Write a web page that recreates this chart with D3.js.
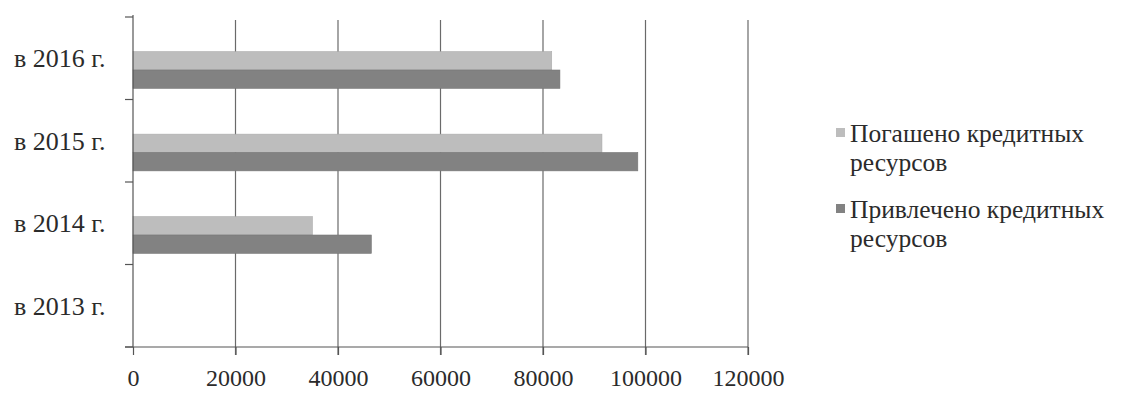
<!DOCTYPE html>
<html lang="ru">
<head>
  <meta charset="UTF-8">
  <title>Кредитные ресурсы</title>
  <script src="https://d3js.org/d3.v7.min.js"></script>
  <style>
    body { margin: 0; background: #fff; }
    svg text { font-family: "Liberation Serif", "Times New Roman", "DejaVu Serif", serif; fill: #2b2b2b; }
    .grid line { stroke: #6a6a6a; stroke-width: 1.2; }
    .axis path, .axis line { stroke: #555; stroke-width: 1.2; }
  </style>
</head>
<body>
  <svg width="1124" height="401"></svg>
  <script>
    // categories top to bottom, as drawn
    const years = ["в 2016 г.", "в 2015 г.", "в 2014 г.", "в 2013 г."];
    const seriesNames = ["Погашено кредитных ресурсов", "Привлечено кредитных ресурсов"];
    const repaid = [81700, 91500, 35000, 0];
    const raised = [83300, 98500, 46500, 0];
    const xTicks = [0, 20000, 40000, 60000, 80000, 100000, 120000];
    const colors = ["#bdbdbd", "#828282"];

    const serif = "'Liberation Serif', 'Times New Roman', serif";
    const svg = d3.select("svg");
    const plot = {left: 133, right: 748, top: 17, bottom: 347};

    const x = d3.scaleLinear().domain([0, 120000]).range([plot.left, plot.right]);
    const y = d3.scaleBand().domain(years).range([plot.top, plot.bottom]).padding(0);
    const bw = y.bandwidth();
    const ys = d3.scaleBand().domain([0, 1]).range([bw * 0.42, bw * 0.865]).padding(0);

    // vertical grid lines
    svg.append("g").attr("class", "grid")
      .selectAll("line")
      .data(xTicks.slice(1))
      .enter().append("line")
        .attr("x1", d => x(d)).attr("x2", d => x(d))
        .attr("y1", 20).attr("y2", plot.bottom + 8);

    // bars
    const data = years.map((c, i) => ({c, v: [repaid[i], raised[i]]}));
    const rows = svg.append("g").selectAll("g")
      .data(data)
      .enter().append("g")
        .attr("transform", d => `translate(0,${y(d.c)})`);
    rows.selectAll("rect")
      .data(d => d.v.map((v, k) => ({v, k})))
      .enter().append("rect")
        .attr("x", x(0))
        .attr("y", d => ys(d.k))
        .attr("width", d => x(d.v) - x(0))
        .attr("height", ys.bandwidth())
        .attr("fill", d => colors[d.k])
        .attr("stroke", d => d3.color(colors[d.k]).darker(0.3))
        .attr("stroke-width", 0.6);

    // y axis line and category ticks
    const yAxis = svg.append("g").attr("class", "axis");
    yAxis.append("line")
      .attr("x1", x(0)).attr("x2", x(0))
      .attr("y1", plot.top - 2).attr("y2", plot.bottom);
    yAxis.selectAll(".tk")
      .data(years.map(c => y(c)).concat([plot.bottom]))
      .enter().append("line")
        .attr("x1", x(0) - 8).attr("x2", x(0))
        .attr("y1", d => d).attr("y2", d => d);
    yAxis.selectAll("text")
      .data(years)
      .enter().append("text")
        .attr("x", 14)
        .attr("y", d => y(d) + bw / 2 + 9)
        .attr("font-family", serif)
        .attr("font-size", 26)
        .text(d => d);

    // x axis
    const xAxis = svg.append("g").attr("class", "axis")
      .attr("transform", `translate(0,${plot.bottom})`)
      .call(d3.axisBottom(x).tickValues(xTicks).tickFormat(d3.format("d")).tickSize(8).tickPadding(14));
    xAxis.attr("font-family", serif);
    xAxis.select(".domain").attr("d", `M${x(0) - 8},0H${x(120000)}`);
    xAxis.selectAll("text").attr("font-size", 24);

    // legend
    const legend = svg.append("g").attr("transform", "translate(836,0)");
    const legendLines = [["Погашено кредитных", "ресурсов"], ["Привлечено кредитных", "ресурсов"]];
    const legendY = [134, 210];
    legendLines.forEach((lines, i) => {
      legend.append("rect")
        .attr("x", 0).attr("y", legendY[i] - 6)
        .attr("width", 9).attr("height", 9)
        .attr("fill", colors[i]);
      lines.forEach((t, j) => {
        legend.append("text")
          .attr("x", 14)
          .attr("y", legendY[i] + 8 + j * 29)
          .attr("font-family", serif)
          .attr("font-size", 25.5)
          .text(t);
      });
    });
  </script>
</body>
</html>
